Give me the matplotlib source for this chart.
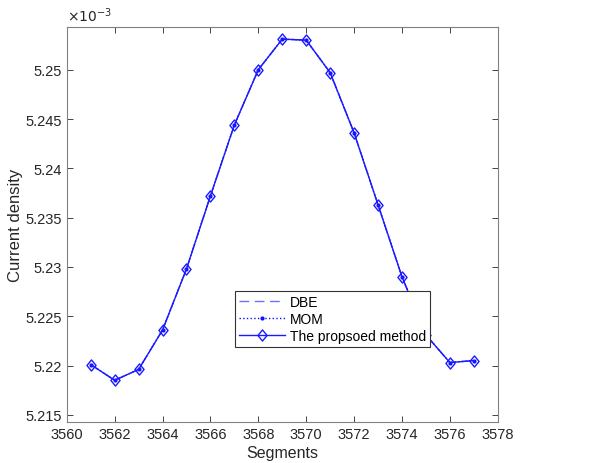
#!/usr/bin/env python3

import matplotlib
matplotlib.use("Agg")
import matplotlib.pyplot as plt
from matplotlib.path import Path
from matplotlib.ticker import FuncFormatter, MultipleLocator


FIGURE_WIDTH_PX = 607
FIGURE_HEIGHT_PX = 464
FIGURE_DPI = 100

# segment index and current density
segments = [3561, 3562, 3563, 3564, 3565, 3566, 3567, 3568, 3569,
            3570, 3571, 3572, 3573, 3574, 3575, 3576, 3577]
density_e3 = [5.2201, 5.2185, 5.2196, 5.2236, 5.2298, 5.2372, 5.2444, 5.2500, 5.2531,
              5.2530, 5.2497, 5.2436, 5.2363, 5.2290, 5.2231, 5.2203, 5.2205]
density = [v * 1e-3 for v in density_e3]

series_labels = ["DBE", "MOM", "The propsoed method"]
AXIS_GRAY = "#262626"

# matlab-like diamond, a bit wider than matplotlib's thin one
DIAMOND = Path([(0, 1), (0.82, 0), (0, -1), (-0.82, 0), (0, 1)],
               [Path.MOVETO, Path.LINETO, Path.LINETO, Path.LINETO, Path.CLOSEPOLY])


def main() -> int:
    plt.rcParams["font.family"] = ["Liberation Sans", "DejaVu Sans"]
    fig = plt.figure(
        figsize=(FIGURE_WIDTH_PX / FIGURE_DPI, FIGURE_HEIGHT_PX / FIGURE_DPI),
        dpi=FIGURE_DPI,
    )
    ax = fig.add_axes([0.110, 0.089, 0.710, 0.850])

    ax.plot(segments, density, linestyle="--", dashes=(7, 4), color="#7070ff",
            linewidth=1.0, label=series_labels[0])
    ax.plot(segments, density, linestyle=":", color="#1010ff", linewidth=1.0,
            marker=".", markersize=4, label=series_labels[1])
    ax.plot(segments, density, linestyle="-", color="#1a1aff", linewidth=1.0,
            marker=DIAMOND, markersize=8, markerfacecolor="none",
            markeredgewidth=1.0, label=series_labels[2])

    ax.set_xlim(3560, 3578)
    ax.set_ylim(5.2143e-3, 5.2543e-3)
    ax.xaxis.set_major_locator(MultipleLocator(2))
    ax.yaxis.set_major_locator(MultipleLocator(0.005e-3))
    ax.yaxis.set_major_formatter(FuncFormatter(lambda v, _: f"{round(v * 1e3, 4):g}"))

    ax.tick_params(direction="in", top=True, right=True, length=4,
                   width=0.6, colors=AXIS_GRAY, labelsize=10.5)
    for spine in ax.spines.values():
        spine.set_color("#808080")
        spine.set_linewidth(0.8)

    ax.set_xlabel("Segments", fontsize=11.5, color=AXIS_GRAY, labelpad=3)
    ax.set_ylabel("Current density", fontsize=12, color=AXIS_GRAY, labelpad=2)
    ax.text(0.0, 1.008, r"$\times 10^{-3}$", transform=ax.transAxes,
            fontsize=10, color=AXIS_GRAY, va="bottom", ha="left")

    legend = ax.legend(loc="lower left", bbox_to_anchor=(0.390, 0.190),
                       borderaxespad=0, fontsize=10, fancybox=False,
                       framealpha=1, handlelength=3.3, handletextpad=0.35,
                       labelspacing=0.2, borderpad=0.3)
    legend.get_frame().set_edgecolor("#333333")
    legend.get_frame().set_linewidth(0.8)

    fig.savefig("out.png", dpi=FIGURE_DPI)
    return 0


if __name__ == "__main__":
    raise SystemExit(main())
